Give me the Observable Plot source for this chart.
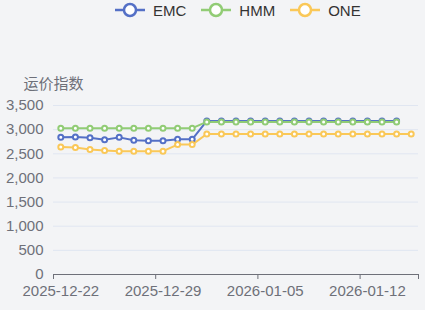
<!DOCTYPE html>
<html>
<head>
<meta charset="utf-8">
<script src="https://cdn.jsdelivr.net/npm/d3@7"></script>
<script src="https://cdn.jsdelivr.net/npm/@observablehq/plot@0.6"></script>
<style>
  html, body { margin: 0; padding: 0; background: #f3f4f6; }
  body { width: 425px; height: 310px; overflow: hidden; font-family: "Liberation Sans", "Noto Sans CJK SC", sans-serif; }
  #legend { height: 22px; display: flex; align-items: flex-start; padding-left: 115px; box-sizing: border-box; }
  .item { display: flex; align-items: center; height: 20px; margin-right: 15px; font-size: 15px; color: #333; }
  .item svg { margin-right: 8px; }
  #chart svg { display: block; }
</style>
</head>
<body>
<div id="legend"></div>
<div id="chart"></div>
<script>
const dates = ["2025-12-22","2025-12-23","2025-12-24","2025-12-25","2025-12-26","2025-12-27","2025-12-28",
  "2025-12-29","2025-12-30","2025-12-31","2026-01-01","2026-01-02","2026-01-03","2026-01-04",
  "2026-01-05","2026-01-06","2026-01-07","2026-01-08","2026-01-09","2026-01-10","2026-01-11",
  "2026-01-12","2026-01-13","2026-01-14","2026-01-15"];
const seriesNames = ["EMC", "HMM", "ONE"];
const seriesColors = ["#5470c6", "#91cc75", "#fac858"];
const emc = [2840,2850,2830,2790,2840,2780,2770,2770,2800,2800,3180,3180,3180,3180,3180,3180,3180,3180,3180,3180,3180,3180,3180,3180];
const hmm = [3030,3030,3030,3030,3030,3030,3030,3030,3030,3030,3160,3160,3160,3160,3160,3160,3160,3160,3160,3160,3160,3160,3160,3160];
const one = [2640,2630,2590,2570,2550,2555,2555,2555,2690,2690,2910,2910,2910,2910,2910,2910,2910,2910,2910,2910,2910,2910,2910,2910,2910];
const yTicks = [0,500,1000,1500,2000,2500,3000,3500];
const labelIdx = [0,7,14,21];
const yTitle = "运价指数";

const allSeries = [emc, hmm, one];
const rows = [];
allSeries.forEach((vals, s) => vals.forEach((v, i) => rows.push({series: seriesNames[s], i, v})));

// legend
const legend = d3.select("#legend");
seriesNames.forEach((name, k) => {
  const it = legend.append("div").attr("class", "item");
  const sv = it.append("svg").attr("width", 30).attr("height", 20);
  sv.append("line").attr("x1", 0).attr("x2", 30).attr("y1", 10).attr("y2", 10)
    .attr("stroke", seriesColors[k]).attr("stroke-width", 2.5);
  sv.append("circle").attr("cx", 15).attr("cy", 10).attr("r", 6)
    .attr("fill", "#fff").attr("stroke", seriesColors[k]).attr("stroke-width", 2.5);
  it.append("span").text(name);
});

const color = {domain: seriesNames, range: seriesColors};
const plot = Plot.plot({
  width: 425,
  height: 288,
  marginLeft: 53,
  marginRight: 7,
  marginTop: 83,
  marginBottom: 36,
  style: {background: "transparent", fontSize: "15px", fontFamily: "Liberation Sans, Noto Sans CJK SC, sans-serif", color: "#6e7079"},
  x: {type: "linear", domain: [-0.5, dates.length - 0.5]},
  y: {domain: [0, 3500]},
  color,
  marks: [
    Plot.gridY(yTicks.filter(d => d > 0), {stroke: "#e0e6f1", strokeOpacity: 1, strokeWidth: 1}),
    Plot.axisY({ticks: yTicks, tickSize: 0, tickPadding: 10, tickFormat: d3.format(","), label: null, fill: "#6e7079"}),
    Plot.ruleY([0], {stroke: "#6e7079", strokeWidth: 1}),
    Plot.axisX({ticks: [-0.5, 6.5, 13.5, 20.5, dates.length - 0.5], tickSize: 5, stroke: "#6e7079", tickFormat: () => "", label: null}),
    Plot.axisX({ticks: labelIdx, tickSize: 0, tickPadding: 11, tickFormat: i => dates[i], label: null, fill: "#6e7079"}),
    Plot.line(rows, {x: "i", y: "v", z: "series", stroke: "series", strokeWidth: 2}),
    Plot.dot(rows, {x: "i", y: "v", stroke: "series", fill: "#fff", r: 2.5, strokeWidth: 2}),
    Plot.text([yTitle], {frameAnchor: "top-left", dy: -27, text: d => d, textAnchor: "middle", fill: "#6e7079", fontSize: 15})
  ]
});
document.getElementById("chart").appendChild(plot);
</script>
</body>
</html>
